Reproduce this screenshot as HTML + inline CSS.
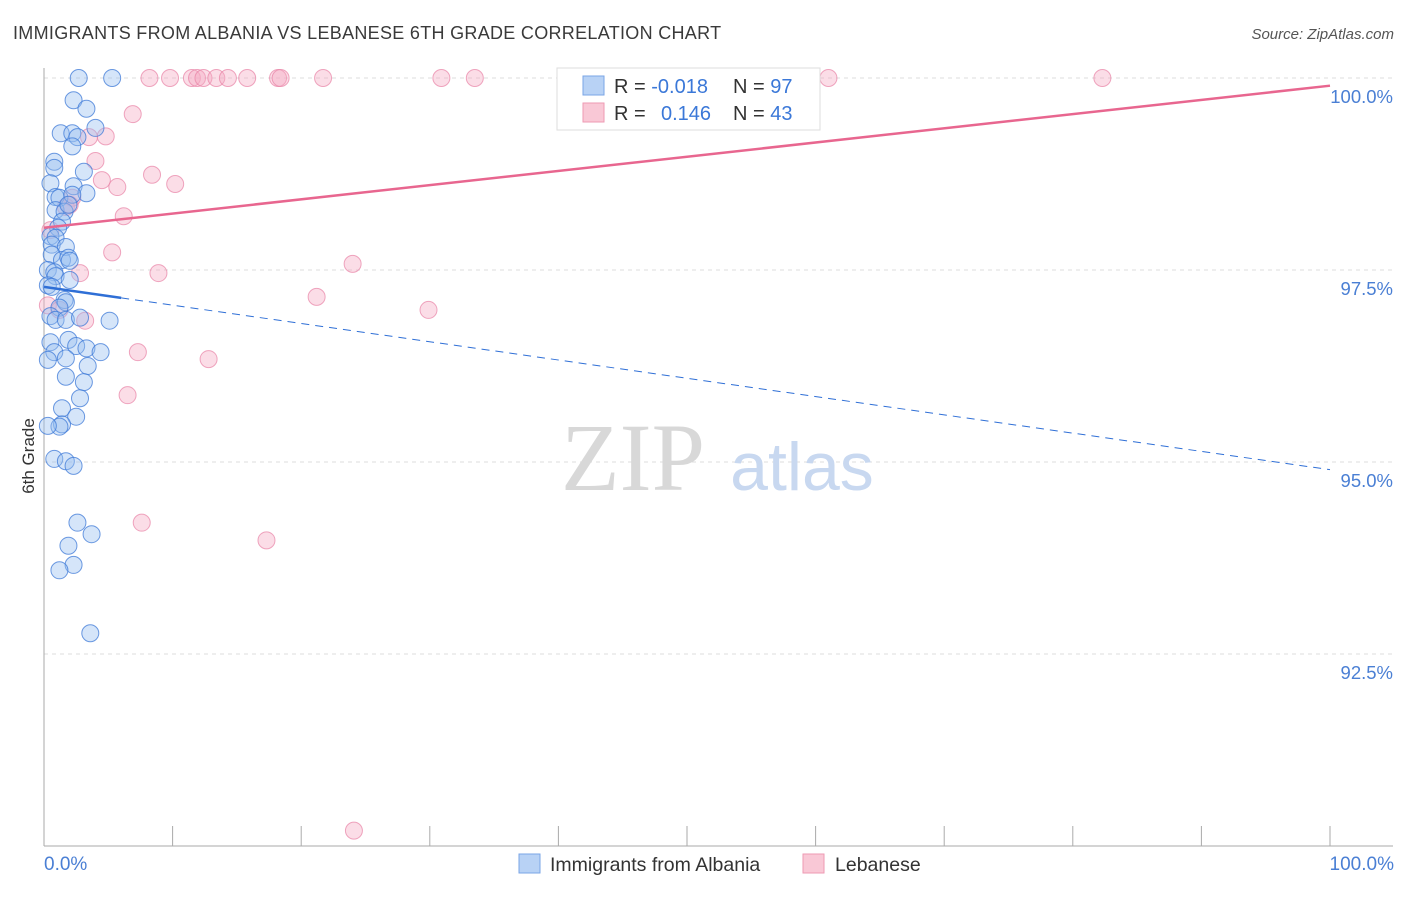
<!DOCTYPE html>
<html><head><meta charset="utf-8"><style>
body{margin:0;background:#fff;font-family:"Liberation Sans",sans-serif}
</style></head><body>
<svg width="1406" height="892" xmlns="http://www.w3.org/2000/svg" font-family="Liberation Sans, sans-serif">
<text x="13" y="39" font-size="18" letter-spacing="0.3" fill="#3a3a3a">IMMIGRANTS FROM ALBANIA VS LEBANESE 6TH GRADE CORRELATION CHART</text>
<text x="1394" y="39" font-size="15" fill="#555" font-style="italic" text-anchor="end">Source: ZipAtlas.com</text>
<g id="grid"></g>
<text x="633" y="490" font-size="96" fill="#d8d8d8" font-family="Liberation Serif, serif" text-anchor="middle">ZIP</text>
<text x="802" y="490" font-size="68" fill="#c8d8f0" text-anchor="middle">atlas</text>
<line x1="44" y1="68" x2="44" y2="846" stroke="#aaa"/>
<line x1="44" y1="846" x2="1393" y2="846" stroke="#aaa"/>
<g id="ticks"></g>
<g id="marks"></g>
<text transform="translate(34,456) rotate(-90)" font-size="17" fill="#333" text-anchor="middle">6th Grade</text>
<text x="44" y="870" font-size="19" fill="#4a7fd4">0.0%</text>
<text x="1394" y="870" font-size="19" fill="#4a7fd4" text-anchor="end">100.0%</text>
<g>
<rect x="557" y="68" width="263" height="62" fill="#fff" stroke="#ddd"/>
<rect x="583" y="76" width="21" height="19" fill="#b8d2f5" stroke="#7aa5e6"/>
<rect x="583" y="103" width="21" height="19" fill="#f9c8d6" stroke="#ee9ab3"/>
<text x="614" y="93" font-size="20" fill="#333">R = <tspan fill="#3b78d8">-0.018</tspan></text>
<text x="733" y="93" font-size="20" fill="#333">N = <tspan fill="#3b78d8">97</tspan></text>
<text x="614" y="120" font-size="20" fill="#333">R = <tspan fill="#3b78d8" x="661">0.146</tspan></text>
<text x="733" y="120" font-size="20" fill="#333">N = <tspan fill="#3b78d8">43</tspan></text>
</g>
<g>
<rect x="519" y="854" width="21" height="19" fill="#b8d2f5" stroke="#7aa5e6"/>
<text x="550" y="871" font-size="19.5" fill="#333">Immigrants from Albania</text>
<rect x="803" y="854" width="21" height="19" fill="#f9c8d6" stroke="#ee9ab3"/>
<text x="835" y="871" font-size="19.5" fill="#333">Lebanese</text>
</g>
</svg>
<script>
const yTicks=[100,97.5,95,92.5];
const yTickLabels=["100.0%","97.5%","95.0%","92.5%"];
const xTicks=[0,10,20,30,40,50,60,70,80,90,100];
const blueX=[2.7,5.3,2.3,3.3,1.3,2.2,2.6,4.0,2.2,0.8,0.8,3.1,0.5,2.3,3.3,0.9,1.2,2.2,0.9,1.6,1.9,1.4,1.1,0.5,0.9,0.6,1.7,0.6,1.4,1.9,2.0,0.3,0.8,0.9,2.0,0.3,0.6,1.6,1.7,1.2,0.5,0.9,1.7,2.8,5.1,0.5,1.9,2.5,3.3,4.4,0.8,0.3,1.7,3.4,1.7,3.1,2.8,1.4,2.5,1.4,1.2,0.3,0.8,1.7,2.3,2.6,3.7,1.9,2.3,1.2,3.6];
const blueY=[100,100,99.71,99.6,99.28,99.28,99.23,99.35,99.11,98.91,98.83,98.78,98.63,98.59,98.5,98.45,98.44,98.48,98.28,98.26,98.35,98.13,98.05,97.94,97.92,97.83,97.8,97.7,97.63,97.66,97.62,97.5,97.47,97.42,97.37,97.3,97.28,97.11,97.08,97.01,96.9,96.85,96.85,96.88,96.84,96.56,96.59,96.51,96.48,96.43,96.43,96.33,96.35,96.25,96.11,96.04,95.83,95.7,95.59,95.49,95.46,95.47,95.04,95.01,94.95,94.21,94.06,93.91,93.66,93.59,92.77];
const pinkX=[8.2,9.8,11.5,11.9,12.4,13.4,14.3,15.8,18.2,18.4,21.7,30.9,33.5,61.0,82.3,6.9,3.5,4.8,4.0,4.5,5.7,8.4,10.2,6.2,2.2,1.7,5.3,2.8,8.9,24.0,21.2,29.9,3.2,7.3,12.8,6.5,7.6,17.3,24.1,0.5,0.3,1.2,2.0];
const pinkY=[100,100,100,100,100,100,100,100,100,100,100,100,100,100,100,99.53,99.23,99.24,98.92,98.67,98.58,98.74,98.62,98.2,98.44,98.32,97.73,97.46,97.46,97.58,97.15,96.98,96.84,96.43,96.34,95.87,94.21,93.98,90.2,98.02,97.04,96.98,98.35];
const pinkTrend=[98.05,99.9];
const blueTrend=[97.28,94.9];
const NS="http://www.w3.org/2000/svg";
const X=v=>44+v*12.86, Y=v=>78+(100-v)*76.8;
function mk(t,a,p){const e=document.createElementNS(NS,t);for(const k in a)e.setAttribute(k,a[k]);document.getElementById(p).appendChild(e);return e;}
yTicks.forEach((t,i)=>{
 const l=mk('line',{x1:44,x2:1393,y1:Y(t),y2:Y(t),stroke:'#ddd','stroke-dasharray':'4,4'},'grid');
 
 
 const tx=mk('text',{x:1393,y:Y(t)+25,'font-size':18.5,fill:'#4a7fd4','text-anchor':'end'},'ticks');
 tx.textContent=yTickLabels[i];
 
 
});
xTicks.forEach(t=>{
 const l=mk('line',{x1:X(t),x2:X(t),y1:826,y2:846,stroke:'#aaa'},'ticks');
 
 
});
pinkX.forEach((x,i)=>{
 const c=mk('circle',{cx:X(x),cy:Y(pinkY[i]),r:8.5,fill:'rgba(246,170,195,0.4)',stroke:'rgba(232,130,165,0.7)','stroke-width':1},'marks');
 
 
});
blueX.forEach((x,i)=>{
 const c=mk('circle',{cx:X(x),cy:Y(blueY[i]),r:8.5,fill:'rgba(150,190,240,0.4)',stroke:'rgba(60,120,215,0.75)','stroke-width':1},'marks');
 
 
});
const pl=mk('line',{x1:X(0),y1:Y(pinkTrend[0]),x2:X(100),y2:Y(pinkTrend[1]),stroke:'#e8668f','stroke-width':2.5},'marks');


const bAt=x=>blueTrend[0]+(blueTrend[1]-blueTrend[0])*x/100;
const bs=mk('line',{x1:X(0),y1:Y(bAt(0)),x2:X(6),y2:Y(bAt(6)),stroke:'#2f6fd6','stroke-width':2.5},'marks');


const bd=mk('line',{x1:X(6),y1:Y(bAt(6)),x2:X(100),y2:Y(bAt(100)),stroke:'#2f6fd6','stroke-width':1,'stroke-dasharray':'8,6'},'marks');


</script>
</body></html>
